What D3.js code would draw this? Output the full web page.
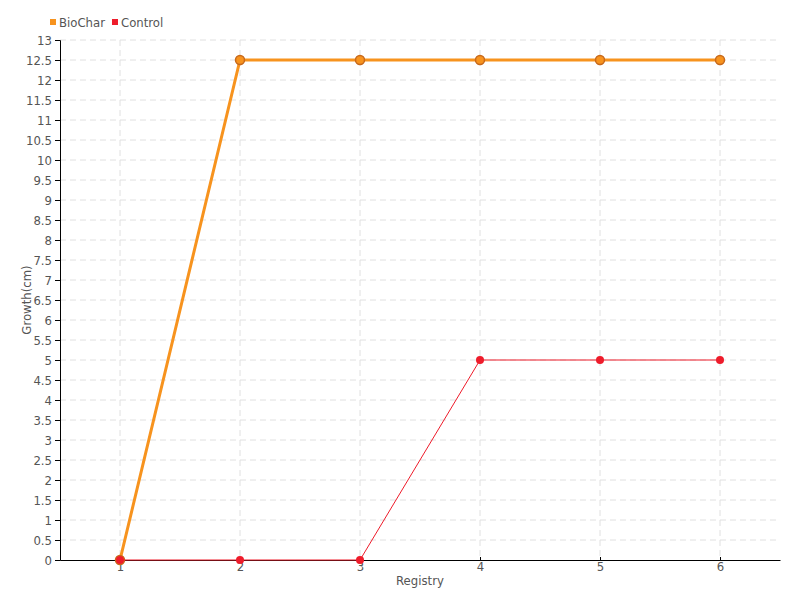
<!DOCTYPE html>
<html><head><meta charset="utf-8">
<script src="https://cdn.jsdelivr.net/npm/d3@7"></script>
<style>body{margin:0;background:#fff}text{font-family:"DejaVu Sans",sans-serif;font-stretch:condensed;fill:#555}</style>
</head><body><svg id="c" width="800" height="600"></svg>
<script>
const categories = ["1","2","3","4","5","6"];
const biochar = [0,12.5,12.5,12.5,12.5,12.5];
const control = [0,0,0,5,5,5];
const yTicks = d3.range(0,13.01,0.5);
const seriesNames = ["BioChar","Control"];
const colors = ["#f7931e","#ee1c2b"];

const svg = d3.select("#c");
const m = {l:60,r:20,t:40,b:40};
const W=800,H=600;
const x = d3.scalePoint().domain(categories).range([m.l,W-m.r]).padding(0.5);
const y = d3.scaleLinear().domain([0,13]).range([H-m.b,m.t]);

// grid
svg.append("g").selectAll("line").data(yTicks.slice(1)).join("line")
 .attr("x1",m.l).attr("x2",W-m.r).attr("y1",d=>y(d)).attr("y2",d=>y(d))
 .attr("stroke","#e0e0e0").attr("stroke-dasharray","6,4");
svg.append("g").selectAll("line").data(categories).join("line")
 .attr("x1",d=>x(d)).attr("x2",d=>x(d)).attr("y1",m.t).attr("y2",H-m.b)
 .attr("stroke","#e0e0e0").attr("stroke-dasharray","6,4");

// axes
const ya = svg.append("g").attr("transform",`translate(${m.l},0)`)
 .call(d3.axisLeft(y).tickValues(yTicks).tickFormat(d=>String(d)).tickSize(5).tickPadding(3));
ya.select(".domain").attr("stroke","#000");
ya.selectAll(".tick line").attr("stroke","#000");
ya.selectAll("text").style("font-size","13px").attr("fill","#555");
const xa = svg.append("g").attr("transform",`translate(0,${H-m.b})`)
 .call(d3.axisBottom(x).tickSizeInner(-3).tickSizeOuter(0).tickPadding(2));
xa.select(".domain").attr("stroke","#000");
xa.selectAll(".tick line").attr("stroke","#000");
xa.selectAll("text").style("font-size","13px").attr("fill","#555");

svg.append("text").attr("x",(m.l+W-m.r)/2).attr("y",585).attr("text-anchor","middle").style("font-size","13px").text("Registry");
svg.append("text").attr("transform",`translate(31,${(m.t+H-m.b)/2}) rotate(-90)`).attr("text-anchor","middle").style("font-size","13px").text("Growth(cm)");

// lines
const line = d3.line().x((d,i)=>x(categories[i])).y(d=>y(d));
svg.append("path").datum(biochar).attr("d",line).attr("fill","none").attr("stroke",colors[0]).attr("stroke-width",3);
svg.append("g").selectAll("circle").data(biochar).join("circle")
 .attr("cx",(d,i)=>x(categories[i])).attr("cy",d=>y(d)).attr("r",4.5)
 .attr("fill",colors[0]).attr("stroke","#c8691a").attr("stroke-width",1.5);
svg.append("path").datum(control).attr("d",line).attr("fill","none").attr("stroke",colors[1]).attr("stroke-width",1);
svg.append("g").selectAll("circle").data(control).join("circle")
 .attr("cx",(d,i)=>x(categories[i])).attr("cy",d=>y(d)).attr("r",4)
 .attr("fill",colors[1]);

// legend
const lg = svg.append("g");
let lx = 50;
seriesNames.forEach((n,i)=>{
  lg.append("rect").attr("x",lx).attr("y",19).attr("width",6).attr("height",6).attr("fill",colors[i]);
  const t = lg.append("text").attr("x",lx+9).attr("y",27).style("font-size","13px").text(n);
  lx += 9 + t.node().getComputedTextLength() + 7;
});
</script></body></html>
